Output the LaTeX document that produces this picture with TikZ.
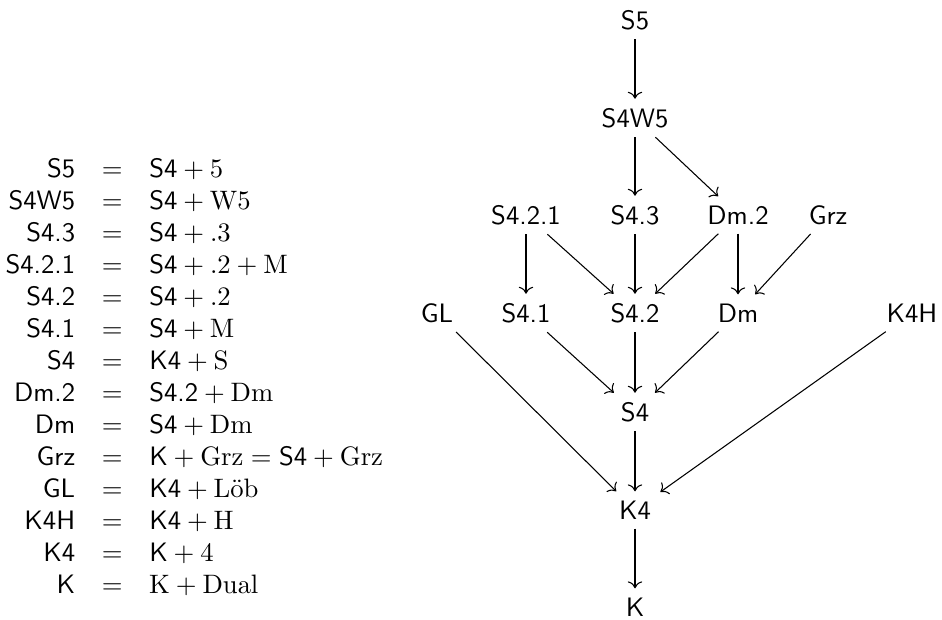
\documentclass[tikz,border=0pt]{standalone}
\usepackage{amsmath}
\usepackage{tikz}
\usetikzlibrary{positioning}
\usetikzlibrary{shapes,arrows,arrows.meta}

\begin{document}
\begin{tikzpicture}[x=0.375pt,y=-0.375pt,
    sys/.style={font=\sffamily},
    imp/.style={-{Computer Modern Rightarrow[length=2.6pt,width=5.4pt]}}]
  \useasboundingbox (0,0) rectangle (942,619);
  % the definitions
  \node(defs) [anchor=north west, inner sep=0pt] at (5,154.6) {$\begin{array}{@{}rcl@{}}
    \textsf{S5} &=& \textsf{S4}+5\\
    \textsf{S4W5} &=& \textsf{S4}+\mathrm{W5}\\
    \textsf{S4.3} &=& \textsf{S4}+.3\\
    \textsf{S4.2.1} &=& \textsf{S4}+.2+\mathrm{M}\\
    \textsf{S4.2} &=& \textsf{S4}+.2\\
    \textsf{S4.1} &=& \textsf{S4}+\mathrm{M}\\
    \textsf{S4} &=& \textsf{K4}+\mathrm{S}\\
    \textsf{Dm.2} &=& \textsf{S4.2}+\mathrm{Dm}\\
    \textsf{Dm} &=& \textsf{S4}+\mathrm{Dm}\\
    \textsf{Grz} &=& \textsf{K}+\mathrm{Grz}=\textsf{S4}+\mathrm{Grz}\\
    \textsf{GL} &=& \textsf{K4}+\textrm{L\"ob}\\
    \textsf{K4H} &=& \textsf{K4}+\mathrm{H}\\
    \textsf{K4} &=& \textsf{K}+4\\
    \textsf{K} &=& \mathrm{K}+\mathrm{Dual}
  \end{array}$};
  % the systems
  \node(s5) [sys] at (635,20) {S5};
  \node(s4w5) [sys] at (635,118) {S4W5};
  \node(s421) [sys] at (526,215) {S4.2.1};
  \node(s43) [sys] at (635,215) {S4.3};
  \node(dm2) [sys] at (738,215) {Dm.2};
  \node(grz) [sys] at (828,215) {Grz};
  \node(gl) [sys] at (437,313) {GL};
  \node(s41) [sys] at (526,313) {S4.1};
  \node(s42) [sys] at (635,313) {S4.2};
  \node(dm) [sys] at (738,313) {Dm};
  \node(k4h) [sys] at (912,313) {K4H};
  \node(s4) [sys] at (635,412) {S4};
  \node(k4) [sys] at (635,510) {K4};
  \node(k) [sys] at (635,607) {K};
  % inclusions
  \draw[imp] (s5) -- (s4w5);
  \draw[imp] (s4w5) -- (s43);
  \draw[imp] (s4w5) -- (dm2);
  \draw[imp] (s421) -- (s41);
  \draw[imp] (s421) -- (s42);
  \draw[imp] (s43) -- (s42);
  \draw[imp] (dm2) -- (s42);
  \draw[imp] (dm2) -- (dm);
  \draw[imp] (grz) -- (dm);
  \draw[imp] (s41) -- (s4);
  \draw[imp] (s42) -- (s4);
  \draw[imp] (dm) -- (s4);
  \draw[imp] (gl) -- (k4);
  \draw[imp] (s4) -- (k4);
  \draw[imp] (k4h) -- (k4);
  \draw[imp] (k4) -- (k);
\end{tikzpicture}
\end{document}
